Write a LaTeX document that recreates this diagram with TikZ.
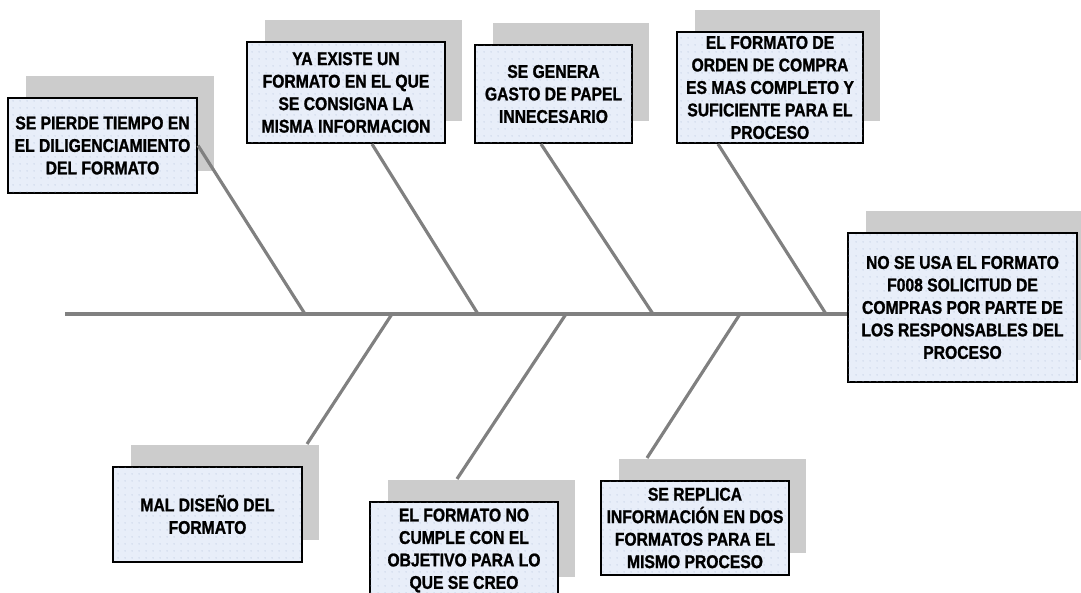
\documentclass[tikz,border=0pt]{standalone}
\usepackage{fontspec}
\setmainfont{Liberation Sans}[FakeStretch=0.85, BoldFeatures={FakeBold=1.2}]
\usetikzlibrary{calc,shadows,patterns.meta}
\definecolor{cajaazul}{HTML}{E8EEF9}
\definecolor{puntos}{HTML}{A9B8D6}
\definecolor{sombra}{HTML}{CCCCCC}
\definecolor{espina}{HTML}{808080}
\tikzset{
  causa/.style={
    rectangle,
    draw=black, line width=1.2pt,
    fill=cajaazul,
    postaction={pattern={Dots[distance=4pt,radius=0.35pt]}, pattern color=puntos},
    drop shadow={shadow xshift=0.35cm, shadow yshift=0.44cm, fill=sombra, opacity=1},
    align=center,
    inner sep=0pt,
    font=\fontsize{10.5}{12.8}\selectfont\bfseries},
  bone/.style={draw=espina, line width=1.8pt},
}
\begin{document}
\begin{tikzpicture}[x=0.02cm, y=-0.02cm]

      \useasboundingbox (0,0) rectangle (1081,592);
      \clip (0,0) rectangle (1081,592);

      % causas de arriba
      \node[causa, minimum width=3.78cm, minimum height=1.9cm] (pierde) at (102.5,145.5) {SE PIERDE TIEMPO EN\\EL DILIGENCIAMIENTO\\DEL FORMATO};
      \node[causa, minimum width=3.96cm, minimum height=2.02cm] (existe) at (346,92.5) {YA EXISTE UN\\FORMATO EN EL QUE\\SE CONSIGNA LA\\MISMA INFORMACION};
      \node[causa, minimum width=3.14cm, minimum height=1.96cm] (papel) at (553.5,94) {SE GENERA\\GASTO DE PAPEL\\INNECESARIO};
      \node[causa, minimum width=3.72cm, minimum height=2.22cm] (orden) at (770,87.5) {EL FORMATO DE\\ORDEN DE COMPRA\\ES MAS COMPLETO Y\\SUFICIENTE PARA EL\\PROCESO};

      % efecto
      \node[causa, minimum width=4.58cm, minimum height=2.98cm] (cabeza) at (962.5,307.5) {NO SE USA EL FORMATO\\F008 SOLICITUD DE\\COMPRAS POR PARTE DE\\LOS RESPONSABLES DEL\\PROCESO};

      % causas de abajo
      \node[causa, minimum width=3.78cm, minimum height=1.9cm] (diseno) at (207.5,514.5) {MAL DISEÑO DEL\\FORMATO};
      \node[causa, minimum width=3.76cm, minimum height=1.94cm] (cumple) at (464,550.5) {EL FORMATO NO\\CUMPLE CON EL\\OBJETIVO PARA LO\\QUE SE CREO};
      \node[causa, minimum width=3.76cm, minimum height=1.88cm] (replica) at (695,528) {SE REPLICA\\INFORMACIÓN EN DOS\\FORMATOS PARA EL\\MISMO PROCESO};

      % espina
      \coordinate (cola) at (65,314);
      \draw[bone] (cola) -- (cola -| cabeza.west);

      \coordinate (e1) at (305,314); \coordinate (e2) at (478,314);
      \coordinate (e3) at (653,314); \coordinate (e4) at (826,314);
      \coordinate (e5) at (392,314); \coordinate (e6) at (566,314);
      \coordinate (e7) at (740,314);

      \draw[bone] (e1) -- (pierde.east);
      \draw[bone] (e2) -- ($(existe.south)+(26,0)$);
      \draw[bone] (e3) -- ($(papel.south)+(-12.5,0)$);
      \draw[bone] (e4) -- ($(orden.south)+(-52,0)$);

      \draw[bone] (e5) -- ($(diseno.north east)+(4,-22)$);
      \draw[bone] (e6) -- ($(cumple.north)+(-7,-22)$);
      \draw[bone] (e7) -- ($(replica.north)+(-48,-22)$);
    \end{tikzpicture}
\end{document}
